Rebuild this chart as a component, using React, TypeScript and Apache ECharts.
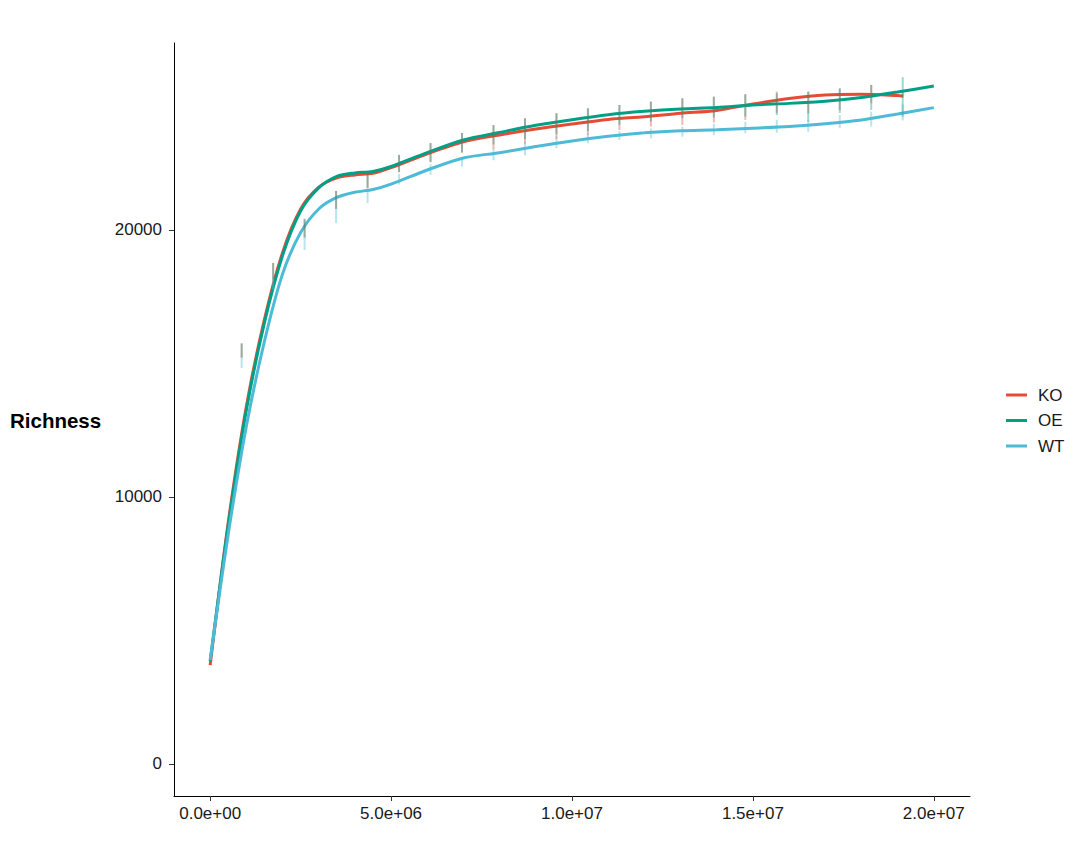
import React, { useEffect, useRef } from "react";
import * as echarts from "echarts";

// ---- data ----
const groups = ["KO", "OE", "WT"];
const colors = ["#E64B35", "#00A087", "#4DBBD5"];

const koDepth = [0, 0.5e6, 1e6, 1.5e6, 2e6, 2.5e6, 3e6, 3.5e6, 4e6, 4.5e6, 5e6, 6e6, 7e6, 8e6, 9e6, 10e6, 11e6, 12e6, 13e6, 14e6, 15e6, 16e6, 17e6, 18e6, 19e6, 19.15e6];
const koFit = [3700, 9050, 13400, 16650, 19150, 20780, 21600, 21950, 22060, 22120, 22330, 22850, 23300, 23557, 23780, 23968, 24137, 24238, 24369, 24474, 24717, 24919, 25054, 25081, 25035, 25017];

const fullDepth = [0, 0.5e6, 1e6, 1.5e6, 2e6, 2.5e6, 3e6, 3.5e6, 4e6, 4.5e6, 5e6, 6e6, 7e6, 8e6, 9e6, 10e6, 11e6, 12e6, 13e6, 14e6, 15e6, 16e6, 17e6, 18e6, 19e6, 20e6];
const oeFit = [3850, 8950, 13257, 16530, 19043, 20710, 21571, 22002, 22133, 22190, 22376, 22897, 23369, 23650, 23919, 24129, 24313, 24440, 24530, 24586, 24680, 24739, 24822, 24961, 25166, 25391];
const wtFit = [3895, 8614, 12650, 15830, 18350, 19900, 20785, 21215, 21410, 21515, 21714, 22245, 22695, 22893, 23125, 23331, 23504, 23638, 23717, 23751, 23811, 23874, 23975, 24118, 24343, 24579];

const barDepth = [0.87e6, 1.74e6, 2.61e6, 3.48e6, 4.35e6, 5.22e6, 6.09e6, 6.96e6, 7.83e6, 8.7e6, 9.57e6, 10.44e6, 11.31e6, 12.18e6, 13.05e6, 13.92e6, 14.79e6, 15.66e6, 16.53e6, 17.4e6, 18.27e6, 19.14e6];
const koLo = [15200, 18100, 19700, 20785, 21560, 22158, 22535, 22893, 23030, 23230, 23410, 23550, 23745, 23867, 23930, 24024, 24118, 24380, 24360, 24490, 24740, 24950];
const koHi = [15750, 18760, 20400, 21460, 22180, 22810, 23250, 23630, 23925, 24182, 24370, 24556, 24680, 24803, 24930, 24990, 25080, 25180, 25180, 25300, 25430, 25150];
const oeLo = [15250, 18150, 19750, 20800, 21580, 22170, 22550, 22900, 23200, 23400, 23580, 23700, 23930, 24054, 24182, 24211, 24242, 24300, 24050, 24380, 24490, 24240];
const oeHi = [15750, 18760, 20420, 21460, 22180, 22810, 23250, 23630, 23925, 24182, 24370, 24556, 24680, 24803, 24930, 24990, 25080, 25120, 25180, 25300, 25430, 25720];
const wtLo = [14830, 17750, 19250, 20250, 21000, 21700, 22060, 22370, 22610, 22800, 23060, 23245, 23370, 23430, 23490, 23550, 23620, 23640, 23680, 23810, 23870, 24100];
const wtHi = [15300, 18200, 19800, 20850, 21550, 22100, 22450, 22700, 23050, 23300, 23500, 23600, 23700, 23800, 23870, 23970, 24050, 24120, 24120, 24300, 24430, 24700];

const xTicks = [0, 5e6, 1e7, 1.5e7, 2e7];
const yTicks = [0, 10000, 20000];

function sci(v: number): string {
  if (v === 0) return "0.0e+00";
  const e = Math.floor(Math.log10(Math.abs(v)) + 1e-9);
  const m = v / Math.pow(10, e);
  return m.toFixed(1) + "e" + (e < 0 ? "-" : "+") + String(Math.abs(e)).padStart(2, "0");
}

function hexA(hex: string, a: number) {
  const r = parseInt(hex.slice(1, 3), 16), g = parseInt(hex.slice(3, 5), 16), b = parseInt(hex.slice(5, 7), 16);
  return `rgba(${r},${g},${b},${a})`;
}

export default function App() {
  const ref = useRef<HTMLDivElement>(null);
  useEffect(() => {
    if (!ref.current) return;
    const chart = echarts.init(ref.current, null, { renderer: "svg" });
    const font = "Liberation Sans, Arial, Helvetica, sans-serif";
    const lineSeries = (name: string, xs: number[], ys: number[], color: string) => ({
      name,
      type: "line",
      data: xs.map((x, i) => [x, ys[i]]),
      smooth: 0.3,
      showSymbol: false,
      symbol: "none",
      lineStyle: { color, width: 3 },
      itemStyle: { color },
      z: 2,
    });
    const errSeries = (name: string, lo: number[], hi: number[], color: string) => ({
      name,
      type: "custom",
      data: barDepth.map((x, i) => [x, lo[i], hi[i]]),
      encode: { x: 0, y: [1, 2] },
      z: 3,
      silent: true,
      renderItem: (params: any, api: any) => {
        const x = api.value(0), lo = api.value(1), hi = api.value(2);
        const p1 = api.coord([x, lo]);
        const p2 = api.coord([x, hi]);
        return {
          type: "line",
          shape: { x1: p1[0], y1: p1[1], x2: p2[0], y2: p2[1] },
          style: { stroke: hexA(color, 0.4), lineWidth: 2 },
        };
      },
    });
    const option: any = {
      animation: false,
      backgroundColor: "#ffffff",
      textStyle: { fontFamily: font },
      grid: { left: 174, top: 43, right: 110, bottom: 68, containLabel: false },
      xAxis: {
        type: "value",
        min: -1e6,
        max: 2.1e7,
        splitLine: { show: false },
        axisLine: { show: true, onZero: false, lineStyle: { color: "#000", width: 1 } },
        axisTick: { show: true, length: 5, lineStyle: { color: "#333" }, customValues: xTicks },
        axisLabel: {
          color: "#1a1a1a", fontSize: 17, fontFamily: font, margin: 9,
          customValues: xTicks, formatter: (v: number) => sci(v),
        },
      },
      yAxis: {
        type: "value",
        min: -1200,
        max: 27000,
        splitLine: { show: false },
        axisLine: { show: true, onZero: false, lineStyle: { color: "#000", width: 1 } },
        axisTick: { show: true, length: 5, lineStyle: { color: "#333" }, customValues: yTicks },
        axisLabel: {
          color: "#1a1a1a", fontSize: 17, fontFamily: font, margin: 12, customValues: yTicks,
          formatter: (v: number) => String(v),
        },
      },
      legend: {
        data: groups,
        orient: "vertical",
        left: 1001,
        top: 381,
        icon: "rect",
        itemWidth: 21,
        itemHeight: 3,
        itemGap: 7.5,
        textStyle: { fontSize: 17, color: "#1a1a1a", fontFamily: font, lineHeight: 18, padding: [0, 0, 0, 6] },
      },
      graphic: [
        {
          type: "text",
          left: 10,
          top: 410,
          style: { text: "Richness", fontSize: 20.5, fontWeight: "bold", fill: "#000", fontFamily: font },
        },
      ],
      series: [
        lineSeries("KO", koDepth, koFit, colors[0]),
        lineSeries("OE", fullDepth, oeFit, colors[1]),
        lineSeries("WT", fullDepth, wtFit, colors[2]),
        errSeries("KO_range", koLo, koHi, colors[0]),
        errSeries("OE_range", oeLo, oeHi, colors[1]),
        errSeries("WT_range", wtLo, wtHi, colors[2]),
      ],
    };
    chart.setOption(option);
    return () => chart.dispose();
  }, []);
  return <div ref={ref} style={{ position: "absolute", left: 0, top: 0, width: 1080, height: 864 }} />;
}
